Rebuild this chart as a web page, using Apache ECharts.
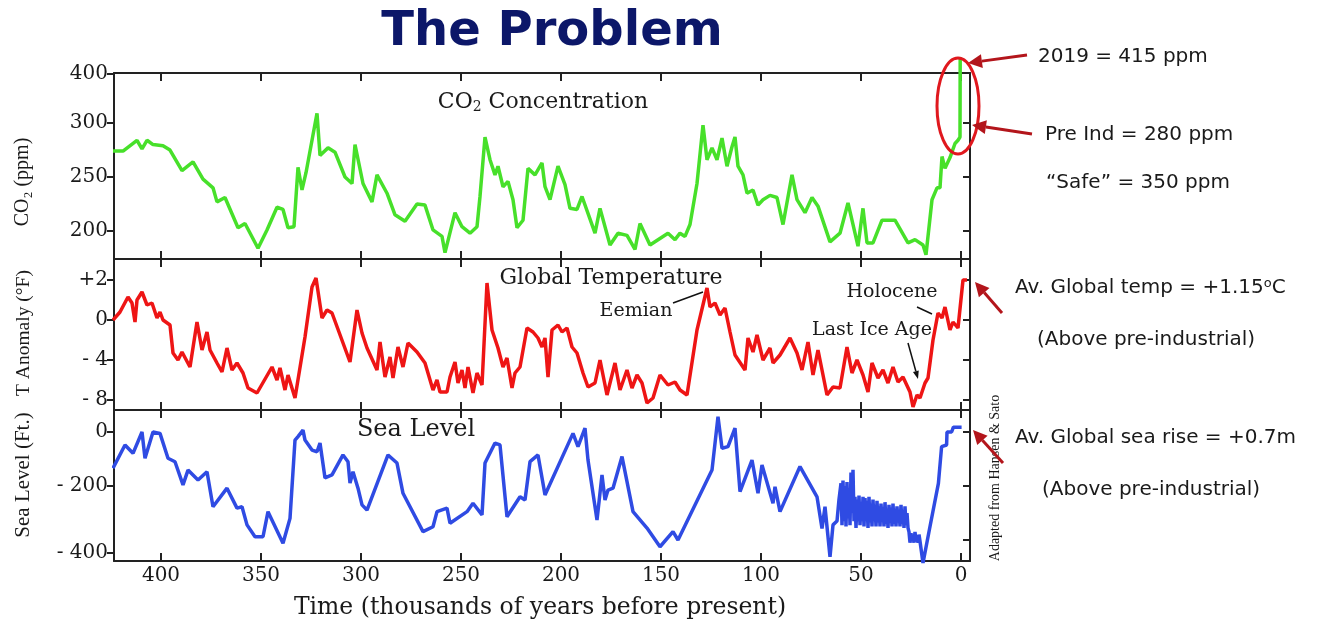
<!DOCTYPE html>
<html>
<head>
<meta charset="utf-8">
<title>The Problem</title>
<script src="https://cdn.jsdelivr.net/npm/echarts@6/dist/echarts.min.js"></script>
<style>
  html, body { margin: 0; padding: 0; background: #fff; }
  #chart { width: 1321px; height: 622px; }
</style>
</head>
<body>
<div id="chart"></div>
<script>
// age in thousands of years before present, value in the panel's axis units
const co2Data = [
  [424,274],[419,274],[412,284],[409.5,276],[407,284],[404,280],[399,279],[395.5,275],[389.5,256],[384,264],
  [379,248],[374,240],[372,227],[368,231],[361.5,203],[358,207],[351.5,184],[347,201],[342,222],[339,220],
  [336.5,203],[333.5,204],[331.5,259],[329.5,238],[327.5,254],[322,309],[320.5,270],[316.5,277],[313,273],[308,250],
  [304.5,244],[303,280],[299,244],[294.5,227],[292,252],[287,235],[283,215],[278,209],[272,225],[268,224],
  [264,201],[259.5,195],[258,180],[253,217],[249.5,204],[245.5,198],[242,204],[240.5,232],[238,287],[235.5,266],
  [233,252],[231.5,260],[229,241],[226.5,246],[224,229],[222,203],[219,210],[216.5,258],[213,252],[209.5,263],
  [208,241],[205.5,229],[201.5,260],[198,243],[195.5,221],[192,220],[189.5,232],[183,198],[180.5,221],[175.5,187],
  [171.5,198],[167,196],[163,183],[160.5,207],[155.5,187],[146.5,198],[143,192],[140.5,198],[138,195],[135.5,206],
  [132,244],[129,298],[127,266],[124.5,277],[122,266],[119.5,286],[117,260],[114.5,278],[113,287],[111.5,260],
  [109,252],[107,235],[104,238],[101.5,224],[99,229],[95.5,233],[92,231],[89,206],[84.5,252],[82,229],
  [78,217],[74.5,231],[71.5,223],[65.5,190],[60.5,198],[56.5,226],[51.5,186],[49,221],[47,189],[44,189],
  [39.5,210],[33,210],[26.5,189],[23,192],[19,187],[17.5,178],[14.5,229],[12,240],[10.5,240],[9.5,269],
  [8,258],[5.5,268],[3,281],[1.5,284],[0.5,287],[0.4,361]
];

const tempData = [
  [424,0],[420.5,0.8],[416.5,2.3],[414.5,1.7],[413,-0.2],[412,2],[409.5,2.8],[407,1.5],[404.5,1.7],[402,0.2],
  [400.5,0.8],[399,0],[395.5,-0.5],[394,-3.3],[391.5,-4],[389.5,-3.2],[385.5,-4.7],[382,-0.2],[379.5,-3],[377,-1.2],
  [375.5,-3],[372,-4.3],[369.5,-5.2],[367,-2.8],[364.5,-5],[362,-4.3],[359,-5.3],[356.5,-6.8],[352,-7.3],[344.5,-4.7],
  [342,-6],[340.5,-4.8],[338,-7],[336.5,-5.5],[333,-7.8],[328,-1.7],[324.5,3.3],[322.5,4.2],[319.5,0.2],[317,1],
  [314.5,0.7],[305.5,-4.2],[302,1],[299.5,-1.3],[297,-2.8],[292,-5],[290.5,-2.2],[288,-5.7],[285.5,-3.7],[284,-5.8],
  [281.5,-2.7],[279,-4.7],[276.5,-2.3],[272,-3.2],[268,-4.3],[264,-7],[262,-6],[260.5,-7.2],[257,-7.2],[255.5,-5.7],
  [253,-4.2],[251.5,-6.3],[249.5,-5],[248,-6.8],[246.5,-4.7],[244,-7.3],[242,-5.3],[239.5,-6.5],[237,3.7],[234.5,-1],
  [231.5,-2.8],[229,-4.7],[227,-3.8],[224.5,-6.8],[223,-5.3],[220.5,-4.7],[217,-0.8],[214,-1.2],[211.5,-1.8],[209.5,-2.7],
  [208,-1.8],[206.5,-5.7],[204.5,-1],[201.5,-0.5],[199.5,-1.2],[197,-0.8],[194.5,-2.7],[192,-3.3],[189,-5.3],[186.5,-6.7],
  [183,-6.3],[180.5,-4],[177,-7.5],[173,-4.3],[170.5,-7],[167,-5],[164.5,-6.8],[162,-5.5],[159.5,-6.3],[157,-8.3],
  [154,-7.8],[150.5,-5.5],[146.5,-6.5],[143,-6.2],[140.5,-7],[137,-7.5],[132,-1],[127,3.2],[125.5,1.3],[123,1.7],
  [120.5,0.5],[118,1.2],[115.5,-1.2],[113,-3.5],[108,-5],[106.5,-1.8],[104,-3.2],[102,-1.5],[99,-4],[95.5,-2.8],
  [94,-4.3],[90.5,-3.5],[85.5,-1.8],[82,-3.3],[79.5,-5],[76.5,-2.2],[74,-5.5],[71.5,-3],[67,-7.5],[64,-6.7],
  [60.5,-6.8],[57,-2.7],[54.5,-5.3],[52,-4],[49,-5.5],[46.5,-7.2],[44.5,-4.3],[41.5,-5.8],[39,-5],[36.5,-6.3],
  [34,-4.7],[31.5,-6.2],[29,-5.7],[25.5,-7.2],[24,-8.7],[22,-7.5],[20.5,-7.8],[18,-6.3],[16.5,-5.8],[14,-2],
  [11.5,0.7],[9.5,0.2],[8,1.3],[5.5,-1],[4,-0.2],[1.5,-0.8],[-1,4],[-3,4]
];

const seaData = [
  [424,-134],[418,-48],[414,-79],[409.5,0],[408,-97],[404,0],[400.5,-5],[396.5,-97],[393,-110],[389,-196],
  [386.5,-141],[381.5,-178],[377,-147],[374,-277],[367,-208],[362,-282],[359.5,-277],[357,-344],[353,-388],[349,-388],
  [346.5,-295],[339,-412],[335.5,-320],[333,-30],[331.5,-17],[329,7],[328,-30],[324.5,-67],[322,-73],[320.5,-41],
  [318,-170],[314.5,-159],[309,-85],[306.5,-110],[305.5,-189],[304,-147],[301.5,-208],[299.5,-270],[297,-289],[286.5,-85],
  [282,-115],[279,-227],[269,-369],[264,-351],[262,-295],[257,-282],[255.5,-338],[247,-295],[244,-264],[239.5,-307],
  [238,-115],[233,-41],[230.5,-48],[227,-314],[220.5,-240],[218,-252],[215.5,-110],[211.5,-85],[208,-233],[194,-5],
  [191.5,-54],[188,14],[186.5,-104],[182,-326],[179.5,-159],[178,-252],[176.5,-215],[174,-208],[169.5,-91],[164,-295],
  [157,-356],[150.5,-425],[144,-369],[141.5,-400],[124.5,-141],[121.5,57],[119.5,-60],[116.5,-54],[113,14],[110.5,-221],
  [104.5,-104],[101.5,-227],[99.5,-122],[94,-264],[93,-203],[90.5,-295],[80.5,-128],[72,-240],[69.5,-357],[68,-277],
  [65.5,-462],[64,-344],[62,-330],[61,-250],
  [60,-190],[59.5,-345],[59,-180],[58.5,-330],[58,-200],[57.5,-350],[57,-185],[56.5,-320],[56,-210],[55.5,-345],
  [55,-150],[54.5,-300],[54,-140],[53.5,-330],[53,-240],[52.5,-355],[52,-250],[51.5,-330],[51,-235],[50.5,-345],
  [50,-260],[49.5,-330],[49,-240],[48.5,-350],[48,-245],[47.5,-320],[47,-255],[46.5,-355],[46,-240],[45.5,-335],
  [45,-265],[44.5,-350],[44,-250],[43.5,-325],[43,-270],[42.5,-350],[42,-255],[41.5,-335],[41,-275],[40.5,-350],
  [40,-265],[39.5,-330],[39,-280],[38.5,-350],[38,-260],[37.5,-340],[37,-285],[36.5,-355],[36,-270],[35.5,-335],
  [35,-280],[34.5,-350],[34,-265],[33.5,-340],[33,-285],[32.5,-350],[32,-275],[31.5,-335],[31,-290],[30.5,-350],
  [30,-270],[29.5,-340],[29,-290],[28.5,-355],[28,-275],[27.5,-345],[27,-300],[26.5,-355],[26,-370],[25.5,-410],
  [25,-375],[24.5,-405],[24,-380],[23.5,-410],[23,-370],[22.5,-405],[22,-385],[21.5,-410],[21,-380],[20.5,-405],
  [19,-485],[15.5,-350],[11.3,-190],[9.7,-54],[7.2,-48],[7,0],[4.7,0],[3.8,18],[-0.3,18]
];

// axis ticks and labels
const ageTicks = [0, 50, 100, 150, 200, 250, 300, 350, 400];
const co2Ticks = [200, 250, 300];
const co2LabelValues = [200, 250, 300, 346];
const co2LabelText = ['200', '250', '300', '400'];
const tempTicks = [-8, -4, 0, 4];
const tempLabelText = ['- 8', '- 4', '0', '+2'];
const seaTicks = [-400, -200, 0];
const seaLabelValues = [-448, -200, 0];
const seaLabelText = ['- 400', '- 200', '0'];

const AX = '#222';
const SERIF = 'DejaVu Serif';
const TIMES = 'Liberation Serif';
const SANS = 'DejaVu Sans';

const grids = [
  { left: 114, top: 73, width: 856, height: 186 },
  { left: 114, top: 259, width: 856, height: 151 },
  { left: 114, top: 410, width: 856, height: 151 }
];

function xAx(g, pos, showLabel) {
  return {
    type: 'value', gridIndex: g, position: pos, inverse: true, min: -4.5, max: 423.5,
    axisLine: { show: true, onZero: false, lineStyle: { color: AX, width: 2 } },
    axisTick: { show: true, inside: true, length: 8, customValues: ageTicks, lineStyle: { color: AX, width: 2 } },
    axisLabel: { show: showLabel, customValues: ageTicks, margin: 5, fontFamily: SERIF, fontSize: 20, color: '#1a1a1a' },
    splitLine: { show: false }
  };
}

function yAx(g, pos, min, max, ticks, labelVals, labelText) {
  const left = pos === 'left';
  return {
    type: 'value', gridIndex: g, position: pos, min: min, max: max,
    axisLine: { show: true, onZero: false, lineStyle: { color: AX, width: 2 } },
    axisTick: { show: true, inside: !left, length: 7, customValues: left ? labelVals : ticks, lineStyle: { color: AX, width: 2 } },
    axisLabel: {
      show: left, customValues: labelVals, margin: 6, fontFamily: SERIF, fontSize: 20, color: '#1a1a1a',
      formatter: function (v) {
        const i = labelVals.indexOf(v);
        return i >= 0 ? labelText[i] : '';
      }
    },
    splitLine: { show: false }
  };
}

function arrow(x1, y1, x2, y2, color, w, hl, hw) {
  const a = Math.atan2(y2 - y1, x2 - x1);
  const c = Math.cos(a), s = Math.sin(a);
  const bx = x2 - hl * c, by = y2 - hl * s;
  return [
    { type: 'line', shape: { x1: x1, y1: y1, x2: bx, y2: by }, style: { stroke: color, lineWidth: w }, z: 100 },
    { type: 'polygon', shape: { points: [[x2, y2], [bx + hw * s, by - hw * c], [bx - hw * s, by + hw * c]] },
      style: { fill: color }, z: 100 }
  ];
}

function txt(text, x, y, font, size, opts) {
  return Object.assign({
    type: 'text', x: x, y: y, z: 100,
    style: Object.assign({ text: text, fontFamily: font, fontSize: size, fill: '#1a1a1a',
      textAlign: 'center', textVerticalAlign: 'middle' }, (opts && opts.style) || {})
  }, (opts && opts.el) || {});
}

const ARROW_RED = '#b3151b';

const graphics = [
  txt('The Problem', 552, 33, SANS, 48, { style: { fill: '#0c1769', fontWeight: 'bold' } }),
  txt('{a|CO}{s|2}{a| Concentration}', 543, 102, SERIF, 22, { style: { rich: {
    a: { fontFamily: SERIF, fontSize: 22, fill: '#1a1a1a' },
    s: { fontFamily: SERIF, fontSize: 14, fill: '#1a1a1a', padding: [10, 0, 0, 0] } } } }),
  txt('Global Temperature', 611, 278, SERIF, 22),
  txt('Sea Level', 416, 430, SERIF, 24),
  txt('Eemian', 636, 311, SERIF, 19),
  txt('Holocene', 892, 292, SERIF, 19),
  txt('Last Ice Age', 872, 330, SERIF, 19),
  { type: 'line', shape: { x1: 673, y1: 303, x2: 703, y2: 292 }, style: { stroke: '#111', lineWidth: 1.5 }, z: 100 },
  { type: 'line', shape: { x1: 917, y1: 307, x2: 932, y2: 314 }, style: { stroke: '#111', lineWidth: 1.5 }, z: 100 },
  ...arrow(908, 343, 918, 379, '#111', 1.5, 8, 3),
  txt('CO₂ (ppm)', 23, 182, TIMES, 20, { el: { rotation: Math.PI / 2 } }),
  txt('T Anomaly (°F)', 24, 333, TIMES, 19.5, { el: { rotation: Math.PI / 2 } }),
  txt('Sea Level (Ft.)', 23, 475, TIMES, 21, { el: { rotation: Math.PI / 2 } }),
  txt('Time (thousands of years before present)', 540, 608, SERIF, 23.5),
  txt('Adapted from Hansen & Sato', 995, 478, TIMES, 14, { el: { rotation: Math.PI / 2 } }),
  { type: 'ellipse', shape: { cx: 958, cy: 106, rx: 21, ry: 48 }, style: { stroke: '#e0181e', lineWidth: 3, fill: null }, z: 100 },
  ...arrow(1027, 55, 968, 63, ARROW_RED, 3, 14, 7),
  ...arrow(1032, 134, 972, 125, ARROW_RED, 3, 14, 7),
  ...arrow(1002, 313, 975, 282, ARROW_RED, 3, 14, 7),
  ...arrow(1003, 463, 973, 430, ARROW_RED, 3, 14, 7),
  txt('2019 = 415 ppm', 1038, 57, SANS, 20, { style: { textAlign: 'left' } }),
  txt('Pre Ind = 280 ppm', 1045, 135, SANS, 20, { style: { textAlign: 'left' } }),
  txt('“Safe” = 350 ppm', 1046, 183, SANS, 20, { style: { textAlign: 'left' } }),
  txt('{a|Av. Global temp = +1.15}{s|o}{a|C}', 1015, 288, SANS, 20, { style: { textAlign: 'left', rich: {
    a: { fontFamily: SANS, fontSize: 20, fill: '#1a1a1a' },
    s: { fontFamily: SANS, fontSize: 13, fill: '#1a1a1a', padding: [0, 0, 8, 0] } } } }),
  txt('(Above pre-industrial)', 1037, 340, SANS, 20, { style: { textAlign: 'left' } }),
  txt('Av. Global sea rise = +0.7m', 1015, 438, SANS, 20, { style: { textAlign: 'left' } }),
  txt('(Above pre-industrial)', 1042, 490, SANS, 20, { style: { textAlign: 'left' } })
];

const chart = echarts.init(document.getElementById('chart'), null, { renderer: 'canvas' });
chart.setOption({
  animation: false,
  backgroundColor: '#fff',
  grid: grids,
  xAxis: [
    xAx(0, 'bottom', false), xAx(0, 'top', false),
    xAx(1, 'bottom', false), xAx(1, 'top', false),
    xAx(2, 'bottom', true), xAx(2, 'top', false)
  ],
  yAxis: [
    yAx(0, 'left', 174.1, 346.3, co2Ticks, co2LabelValues, co2LabelText),
    yAx(0, 'right', 174.1, 346.3, co2Ticks, co2LabelValues, co2LabelText),
    yAx(1, 'left', -9, 6.1, tempTicks, tempTicks, tempLabelText),
    yAx(1, 'right', -9, 6.1, tempTicks, tempTicks, tempLabelText),
    yAx(2, 'left', -477.8, 81.5, seaTicks, seaLabelValues, seaLabelText),
    yAx(2, 'right', -477.8, 81.5, seaTicks, seaLabelValues, seaLabelText)
  ],
  series: [
    { name: 'CO2', type: 'line', xAxisIndex: 0, yAxisIndex: 0, data: co2Data, showSymbol: false, clip: false,
      lineStyle: { color: '#47e02a', width: 3.5 }, itemStyle: { color: '#47e02a' } },
    { name: 'Temperature', type: 'line', xAxisIndex: 2, yAxisIndex: 2, data: tempData, showSymbol: false, clip: false,
      lineStyle: { color: '#ee1515', width: 3.5 }, itemStyle: { color: '#ee1515' } },
    { name: 'Sea Level', type: 'line', xAxisIndex: 4, yAxisIndex: 4, data: seaData, showSymbol: false, clip: false,
      lineStyle: { color: '#2f4be3', width: 3.5 }, itemStyle: { color: '#2f4be3' } }
  ],
  graphic: graphics
});
</script>
</body>
</html>
